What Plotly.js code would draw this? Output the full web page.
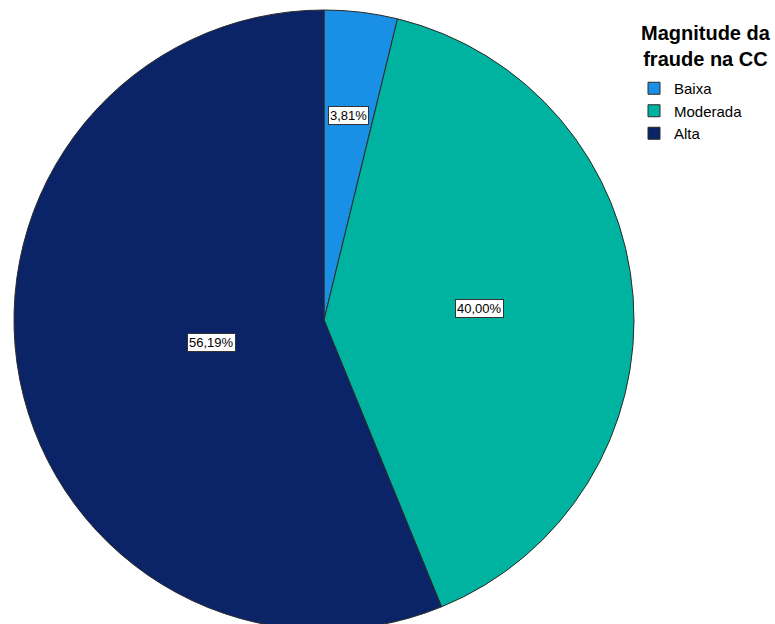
<!DOCTYPE html>
<html>
<head>
<meta charset="utf-8">
<script src="https://cdn.plot.ly/plotly-3.0.1.min.js"></script>
<style>
html,body{margin:0;padding:0;overflow:hidden;background:#fff;}
#chart{width:775px;height:640px;}
</style>
</head>
<body>
<div id="chart"></div>
<script>
// Data
var categories = ["Baixa", "Moderada", "Alta"];
var percentages = [3.81, 40.00, 56.19];
var sliceColors = ["#1a8fe6", "#00b3a0", "#0b2468"];
var legendTitle = "Magnitude da<br>fraude na CC";

var W = 775, H = 640;
var cx = 324, cy = 320, R = 310;

function fmt(v) { return v.toFixed(2).replace(".", ",") + "%"; }

var trace = {
  type: "pie",
  labels: categories,
  values: percentages,
  sort: false,
  direction: "clockwise",
  rotation: 0,
  textinfo: "none",
  hoverinfo: "label+percent",
  marker: { colors: sliceColors, line: { color: "#2a2a2a", width: 1 } },
  domain: { x: [(cx - R) / W, (cx + R) / W], y: [(H - cy - R) / H, (H - cy + R) / H] }
};

// Label boxes placed at each slice centroid, derived from the data
var total = percentages.reduce(function (a, b) { return a + b; }, 0);
var annotations = [];
var start = 0;
for (var i = 0; i < percentages.length; i++) {
  var f = percentages[i] / total;
  var phi = 2 * Math.PI * (start + f / 2);
  var alpha = Math.PI * f;
  var d = 2 * R * Math.sin(alpha) / (3 * alpha);
  var px = cx + d * Math.sin(phi);
  var py = cy - d * Math.cos(phi);
  annotations.push({
    x: px / W, y: (H - py) / H, xref: "paper", yref: "paper",
    xanchor: "center", yanchor: "middle",
    text: fmt(percentages[i]), showarrow: false,
    font: { family: "Liberation Sans, Arial, sans-serif", size: 13, color: "#000" },
    bgcolor: "#ffffff", bordercolor: "#333333", borderwidth: 1, borderpad: 1
  });
  start += f;
}
annotations.push({
  x: 706 / W, y: (H - 46) / H, xref: "paper", yref: "paper",
  xanchor: "center", yanchor: "middle", align: "center",
  text: "<b>" + legendTitle + "</b>", showarrow: false,
  font: { family: "Liberation Sans, Arial, sans-serif", size: 20, color: "#000" }
});

var layout = {
  width: W, height: H,
  margin: { l: 0, r: 0, t: 0, b: 0 },
  paper_bgcolor: "#fff",
  showlegend: true,
  legend: {
    x: 634 / W, y: (H - 72) / H, xanchor: "left", yanchor: "top",
    font: { family: "Liberation Sans, Arial, sans-serif", size: 15, color: "#000" },
    itemwidth: 30, tracegroupgap: 0, bgcolor: "rgba(0,0,0,0)"
  },
  annotations: annotations
};

Plotly.newPlot("chart", [trace], layout, { displayModeBar: false, staticPlot: true });
</script>
</body>
</html>
